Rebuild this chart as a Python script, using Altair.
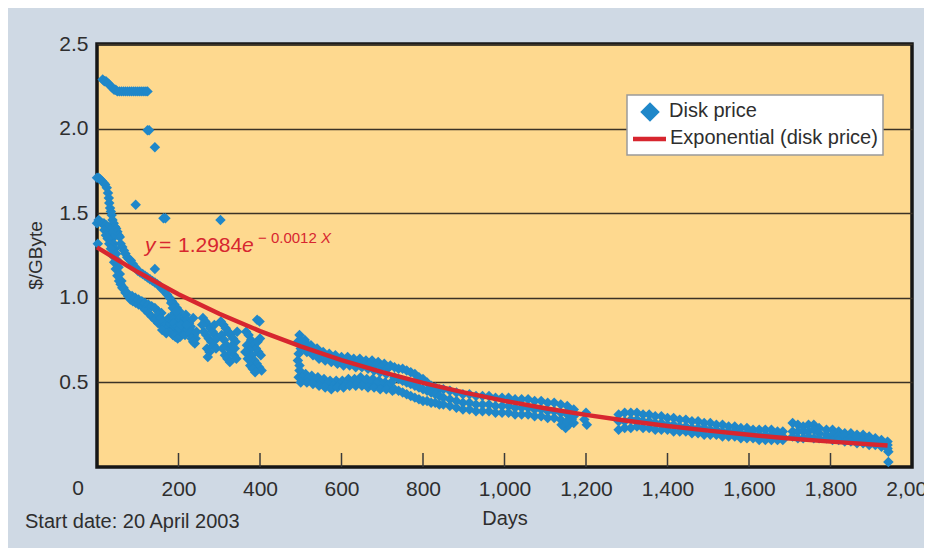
import altair as alt
import pandas as pd

# ---------------- data ----------------
plateau_days = [14, 18, 22, 26, 30, 34, 38, 42, 46, 50, 55, 60, 65, 70, 75, 80, 85, 90, 95, 100, 105, 110, 115, 120, 124]
plateau_vals = [2.29, 2.28, 2.28, 2.27, 2.26, 2.25, 2.24, 2.23, 2.23, 2.22, 2.22, 2.22, 2.22, 2.22, 2.22, 2.22, 2.22, 2.22, 2.22, 2.22, 2.22, 2.22, 2.22, 2.22, 2.22]

iso_days = [124, 128, 142, 95, 163, 168, 303, 142, 2]
iso_vals = [1.99, 1.99, 1.89, 1.55, 1.47, 1.47, 1.46, 1.17, 1.32]

chainB_days = [0, 4, 8, 12, 16, 20, 24, 27, 29, 30, 32, 34, 36, 38, 41, 44, 47, 50, 53, 56]
chainB_vals = [1.71, 1.71, 1.70, 1.69, 1.68, 1.67, 1.65, 1.62, 1.59, 1.56, 1.53, 1.51, 1.49, 1.46, 1.44, 1.42, 1.41, 1.39, 1.37, 1.36]

chainC_days = [0, 4, 8, 12, 17, 22, 27, 31, 35, 38, 41, 44, 47, 50, 53, 56, 60, 65, 70, 76, 82, 88, 95, 102, 110, 118, 126, 134, 142, 150, 158, 166, 174, 182, 190]
chainC_vals = [1.44, 1.46, 1.45, 1.44, 1.44, 1.43, 1.42, 1.40, 1.38, 1.35, 1.32, 1.29, 1.26, 1.22, 1.18, 1.14, 1.10, 1.06, 1.03, 1.01, 0.99, 0.98, 0.97, 0.96, 0.95, 0.93, 0.91, 0.89, 0.87, 0.85, 0.84, 0.82, 0.81, 0.80, 0.79]

chainD_days = [58, 62, 66, 70, 74, 78, 83, 88, 94, 100, 106, 112, 118, 124, 130, 136, 142, 148, 154, 160, 166, 172, 178, 184, 190, 196, 202]
chainD_vals = [1.32, 1.30, 1.28, 1.26, 1.24, 1.23, 1.22, 1.20, 1.18, 1.16, 1.15, 1.14, 1.13, 1.12, 1.11, 1.10, 1.09, 1.08, 1.07, 1.05, 1.04, 1.02, 1.00, 0.98, 0.96, 0.94, 0.92]

chainE_days = [18, 22, 26, 30, 34, 38, 42, 46, 50, 54, 58, 62, 66, 72, 78, 86, 94, 102, 110, 118, 126, 134, 142, 150, 158]
chainE_vals = [1.40, 1.37, 1.35, 1.32, 1.29, 1.25, 1.21, 1.17, 1.13, 1.10, 1.08, 1.06, 1.05, 1.03, 1.02, 1.01, 1.00, 0.99, 0.98, 0.97, 0.96, 0.95, 0.94, 0.92, 0.91]

blob_days = [150, 156, 162, 168, 174, 180, 186, 192, 198, 204, 210, 216, 160, 170, 180, 190, 200, 210, 220, 176, 186, 196, 206, 216]
blob_vals = [0.90, 0.88, 0.86, 0.84, 0.82, 0.80, 0.78, 0.77, 0.76, 0.77, 0.79, 0.78, 0.81, 0.79, 0.85, 0.83, 0.81, 0.83, 0.82, 0.88, 0.86, 0.84, 0.86, 0.88]

col1_days = [182, 186, 190, 184, 192, 198, 188, 196, 202, 206, 200, 194]
col1_vals = [0.97, 0.94, 0.91, 0.89, 0.88, 0.86, 0.85, 0.83, 0.82, 0.84, 0.90, 0.92]

col2_days = [218, 222, 226, 230, 234, 238, 242, 224, 228, 232, 236, 240, 220, 244, 236]
col2_vals = [0.90, 0.87, 0.85, 0.83, 0.80, 0.78, 0.76, 0.81, 0.79, 0.76, 0.74, 0.73, 0.84, 0.80, 0.88]

col3_days = [260, 266, 272, 278, 284, 290, 262, 268, 274, 280, 286, 292, 270, 276, 272, 288, 294, 258]
col3_vals = [0.88, 0.86, 0.84, 0.82, 0.80, 0.78, 0.80, 0.78, 0.76, 0.74, 0.72, 0.70, 0.70, 0.68, 0.65, 0.84, 0.76, 0.84]

col4_days = [304, 310, 316, 322, 328, 334, 340, 306, 312, 318, 324, 330, 336, 342, 314, 320, 326, 332, 338, 344, 308]
col4_vals = [0.86, 0.84, 0.82, 0.80, 0.78, 0.76, 0.74, 0.78, 0.75, 0.72, 0.70, 0.68, 0.66, 0.64, 0.66, 0.64, 0.62, 0.72, 0.70, 0.80, 0.70]

col5_days = [366, 372, 378, 384, 390, 396, 402, 368, 374, 380, 386, 392, 398, 404, 376, 382, 388, 394, 400, 393, 399, 364, 370]
col5_vals = [0.80, 0.78, 0.75, 0.72, 0.70, 0.68, 0.66, 0.72, 0.69, 0.66, 0.63, 0.61, 0.59, 0.57, 0.60, 0.58, 0.56, 0.74, 0.76, 0.87, 0.86, 0.68, 0.64]

connector_days = [493, 495, 493, 497, 495]
connector_vals = [0.74, 0.67, 0.63, 0.60, 0.53]

upperA_days = [497, 510, 525, 540, 555, 570, 585, 600, 615, 630, 645, 660, 675, 690, 705, 720]
upperA_vals = [0.78, 0.75, 0.72, 0.70, 0.68, 0.67, 0.66, 0.65, 0.65, 0.64, 0.64, 0.63, 0.63, 0.62, 0.61, 0.60]
upperM_days = [503, 518, 533, 548, 563, 578, 593, 608, 623, 638, 653, 668, 683, 698, 713]
upperM_vals = [0.74, 0.72, 0.69, 0.67, 0.655, 0.645, 0.635, 0.625, 0.625, 0.615, 0.615, 0.605, 0.60, 0.59, 0.58]
upperB_days = [500, 515, 530, 545, 560, 575, 590, 605, 620, 635, 650, 665, 680, 695, 710]
upperB_vals = [0.70, 0.68, 0.66, 0.64, 0.63, 0.62, 0.61, 0.60, 0.60, 0.59, 0.59, 0.58, 0.57, 0.56, 0.55]
lowerA_days = [497, 512, 527, 542, 557, 572, 587, 602, 617, 632, 647, 662, 677, 692, 707, 722]
lowerA_vals = [0.57, 0.55, 0.54, 0.53, 0.52, 0.51, 0.51, 0.51, 0.52, 0.52, 0.53, 0.52, 0.52, 0.51, 0.50, 0.50]
lowerM_days = [505, 520, 535, 550, 565, 580, 595, 610, 625, 640, 655, 670, 685, 700, 715]
lowerM_vals = [0.53, 0.525, 0.515, 0.505, 0.495, 0.485, 0.49, 0.49, 0.50, 0.50, 0.505, 0.495, 0.495, 0.485, 0.48]
lowerB_days = [500, 515, 530, 545, 560, 575, 590, 605, 620, 635, 650, 665, 680, 695, 710, 725]
lowerB_vals = [0.50, 0.50, 0.49, 0.48, 0.47, 0.46, 0.47, 0.47, 0.48, 0.48, 0.48, 0.47, 0.47, 0.46, 0.46, 0.45]

band1_days = [730, 740, 750, 760, 770, 780, 790, 800, 810, 820, 830, 840]
band1_top = [0.59, 0.58, 0.58, 0.57, 0.56, 0.55, 0.53, 0.52, 0.50, 0.48, 0.47, 0.46]
band1_mid = [0.53, 0.52, 0.51, 0.50, 0.49, 0.48, 0.47, 0.46, 0.45, 0.44, 0.43, 0.42]
band1_bot = [0.46, 0.45, 0.44, 0.43, 0.42, 0.41, 0.40, 0.39, 0.39, 0.38, 0.38, 0.37]

band2_days = [850, 866, 882, 898, 914, 930, 946, 962, 978, 994, 1010, 1026, 1042, 1058, 1074, 1090, 1106, 1122, 1138, 1154, 1170]
band2_top = [0.46, 0.45, 0.44, 0.43, 0.43, 0.42, 0.42, 0.42, 0.41, 0.41, 0.41, 0.40, 0.40, 0.40, 0.39, 0.39, 0.38, 0.38, 0.37, 0.36, 0.34]
band2_mid = [0.41, 0.40, 0.39, 0.38, 0.38, 0.37, 0.37, 0.37, 0.36, 0.36, 0.36, 0.35, 0.35, 0.35, 0.34, 0.34, 0.33, 0.33, 0.32, 0.31, 0.30]
band2_bot = [0.37, 0.36, 0.35, 0.34, 0.34, 0.33, 0.33, 0.33, 0.32, 0.32, 0.32, 0.31, 0.31, 0.31, 0.30, 0.30, 0.29, 0.29, 0.28, 0.27, 0.26]

stray_days = [1150, 1158, 1140, 1200, 1202, 1196, 1160, 1165, 1942, 1942]
stray_vals = [0.23, 0.25, 0.25, 0.32, 0.25, 0.28, 0.34, 0.28, 0.03, 0.09]

band3_days = [1280, 1295, 1310, 1325, 1340, 1355, 1370]
band3_top = [0.31, 0.32, 0.32, 0.32, 0.31, 0.31, 0.30]
band3_mid = [0.27, 0.27, 0.28, 0.28, 0.27, 0.27, 0.26]
band3_bot = [0.22, 0.23, 0.23, 0.24, 0.23, 0.23, 0.22]

band4_days = [1385, 1400, 1415, 1430, 1445, 1460, 1475, 1490, 1505, 1520, 1535, 1550, 1565]
band4_top = [0.30, 0.29, 0.29, 0.28, 0.28, 0.27, 0.27, 0.26, 0.26, 0.25, 0.25, 0.24, 0.24]
band4_mid = [0.26, 0.25, 0.25, 0.24, 0.24, 0.23, 0.23, 0.23, 0.22, 0.22, 0.21, 0.21, 0.21]
band4_bot = [0.22, 0.22, 0.21, 0.21, 0.21, 0.20, 0.20, 0.19, 0.19, 0.19, 0.18, 0.18, 0.18]

band5_days = [1580, 1595, 1610, 1625, 1640, 1655, 1670, 1683]
band5_top = [0.23, 0.23, 0.22, 0.22, 0.22, 0.22, 0.21, 0.21]
band5_mid = [0.20, 0.20, 0.19, 0.19, 0.19, 0.19, 0.18, 0.18]
band5_bot = [0.17, 0.17, 0.17, 0.16, 0.16, 0.16, 0.16, 0.16]

band6_days = [1707, 1720, 1733, 1746, 1759, 1772]
band6_top = [0.26, 0.25, 0.24, 0.25, 0.25, 0.23]
band6_mid = [0.21, 0.21, 0.21, 0.21, 0.22, 0.20]
band6_bot = [0.18, 0.17, 0.17, 0.18, 0.17, 0.17]

band7_days = [1790, 1805, 1820, 1835, 1850, 1865, 1880, 1895, 1910, 1925, 1940]
band7_top = [0.22, 0.22, 0.21, 0.20, 0.20, 0.19, 0.19, 0.18, 0.17, 0.16, 0.15]
band7_mid = [0.19, 0.19, 0.18, 0.18, 0.17, 0.17, 0.16, 0.16, 0.15, 0.14, 0.13]
band7_bot = [0.17, 0.16, 0.16, 0.15, 0.15, 0.14, 0.14, 0.13, 0.13, 0.12, 0.11]

# fitted exponential trend line
line_days = [0, 100, 200, 300, 400, 500, 600, 700, 800, 900, 1000, 1100, 1200, 1300, 1400, 1500, 1600, 1700, 1800, 1940]
line_vals = [1.298, 1.152, 1.021, 0.906, 0.803, 0.713, 0.632, 0.561, 0.497, 0.441, 0.391, 0.347, 0.308, 0.273, 0.242, 0.215, 0.190, 0.169, 0.150, 0.127]

x_tick_values = [200, 400, 600, 800, 1000, 1200, 1400, 1600, 1800, 2000]
inner_tick_days = [200, 400, 600, 800, 1000, 1200, 1400, 1600, 1800]
y_tick_values = [0.5, 1.0, 1.5, 2.0, 2.5]

legend_labels = ["Disk price", "Exponential (disk price)"]
x_title = "Days"
y_title = "$/GByte"
zero_label = "0"
start_note = "Start date: 20 April 2003"
eq_y, eq_eq, eq_coef, eq_e, eq_exp, eq_x = "y", "=", "1.2984", "e", "\u2212 0.0012", "X"

# ---------------- assemble ----------------
pairs = [
    (plateau_days, plateau_vals), (iso_days, iso_vals), (chainB_days, chainB_vals),
    (chainC_days, chainC_vals), (chainD_days, chainD_vals), (chainE_days, chainE_vals),
    (blob_days, blob_vals), (col1_days, col1_vals), (col2_days, col2_vals),
    (col3_days, col3_vals), (col4_days, col4_vals), (col5_days, col5_vals),
    (connector_days, connector_vals), (upperA_days, upperA_vals), (upperM_days, upperM_vals),
    (upperB_days, upperB_vals), (lowerA_days, lowerA_vals), (lowerM_days, lowerM_vals),
    (lowerB_days, lowerB_vals), (stray_days, stray_vals),
]
bands = [
    (band1_days, [band1_top, band1_mid, band1_bot]),
    (band2_days, [band2_top, band2_mid, band2_bot]),
    (band3_days, [band3_top, band3_mid, band3_bot]),
    (band4_days, [band4_top, band4_mid, band4_bot]),
    (band5_days, [band5_top, band5_mid, band5_bot]),
    (band6_days, [band6_top, band6_mid, band6_bot]),
    (band7_days, [band7_top, band7_mid, band7_bot]),
]
rows = []
for ds, vs in pairs:
    rows += [{"day": d, "price": v} for d, v in zip(ds, vs)]
for ds, vsets in bands:
    for vs in vsets:
        rows += [{"day": d, "price": v} for d, v in zip(ds, vs)]
pts_df = pd.DataFrame(rows)
line_df = pd.DataFrame({"day": line_days, "price": line_vals})
tick_df = pd.DataFrame({"day": inner_tick_days})

# ---------------- styling ----------------
FONT = "Liberation Sans Narrow, Liberation Sans, Arial, sans-serif"
BLUE = "#1f87c9"
RED = "#d7262f"
TXT = "#2e2e2e"
W, H = 815, 423
LAB = 21

x_enc = alt.X(
    "day:Q",
    scale=alt.Scale(domain=[0, 2000], nice=False, zero=True),
    axis=alt.Axis(
        values=x_tick_values, format=",d", grid=False, domain=False, ticks=False,
        labelPadding=11, labelFontSize=LAB, labelFont=FONT, labelColor=TXT,
        labelFlush=False, labelOverlap=False,
        title=x_title, titleFont=FONT, titleFontSize=20, titleFontWeight="normal",
        titleColor=TXT, titleY=51, titleBaseline="middle",
    ),
)
y_enc = alt.Y(
    "price:Q",
    scale=alt.Scale(domain=[0, 2.5], nice=False),
    axis=alt.Axis(
        values=y_tick_values, format=".1f", grid=True, gridColor="#3b3326",
        gridWidth=1.5, domain=False, ticks=False, labelPadding=9,
        labelFontSize=LAB, labelFont=FONT, labelColor=TXT, labelOverlap=False,
        title=y_title, titleFont=FONT, titleFontSize=19, titleFontWeight="normal",
        titleColor=TXT, titleX=-52, titleY=211, titleAngle=270,
        titleAlign="center", titleBaseline="bottom",
    ),
)

ticks = alt.Chart(tick_df).mark_rule(color="#3a3a3a", strokeWidth=1.5).encode(
    x=alt.X("day:Q"), y=alt.value(H), y2=alt.value(H - 14)
)
points = alt.Chart(pts_df).mark_point(
    shape="diamond", filled=True, size=110, color=BLUE, opacity=1
).encode(x=x_enc, y=y_enc)
trend = alt.Chart(line_df).mark_line(color=RED, strokeWidth=4.5).encode(
    x="day:Q", y="price:Q"
)


def txt(s, x, y, size=20, style="normal", color=TXT, align="left", baseline="alphabetic"):
    return alt.Chart(alt.Data(values=[{"t": s}])).mark_text(
        font=FONT, fontSize=size, fontStyle=style, color=color,
        align=align, baseline=baseline,
    ).encode(text="t:N", x=alt.value(x), y=alt.value(y))


one = alt.Data(values=[{"k": 1}])
legend_box = alt.Chart(one).mark_rect(
    fill="white", stroke="#9a9a9a", strokeWidth=1.5
).encode(x=alt.value(530), x2=alt.value(786), y=alt.value(51), y2=alt.value(111))
legend_diamond = alt.Chart(one).mark_point(
    shape="diamond", filled=True, size=380, color=BLUE, opacity=1
).encode(x=alt.value(553), y=alt.value(68))
legend_line = alt.Chart(one).mark_rule(color=RED, strokeWidth=4.5).encode(
    x=alt.value(536), x2=alt.value(569), y=alt.value(95)
)

layers = [
    ticks, points, trend,
    txt(eq_y, 48, 208, 21, "italic", RED),
    txt(eq_eq, 62, 208, 21, "normal", RED),
    txt(eq_coef, 81, 208, 21, "normal", RED),
    txt(eq_e, 145, 208, 21, "italic", RED),
    txt(eq_exp, 161, 199, 15, "normal", RED),
    txt(eq_x, 224, 199, 15, "italic", RED),
    legend_box, legend_diamond, legend_line,
    txt(legend_labels[0], 572, 67, 20, baseline="middle"),
    txt(legend_labels[1], 573, 94, 20, baseline="middle"),
    txt(zero_label, -19, H + 11, LAB, align="center", baseline="top"),
    txt(start_note, -72, 478, 20, baseline="middle"),
]

chart = alt.layer(*layers).properties(
    width=W, height=H,
    autosize=alt.AutoSizeParams(type="none"),
    padding={"left": 89, "top": 36, "right": 12, "bottom": 81},
    background="#cfd9e4",
).configure_view(fill="#fed98f", stroke="#161616", strokeWidth=3.5)

chart.save("out.html", embed_options={"renderer": "svg", "actions": False})
